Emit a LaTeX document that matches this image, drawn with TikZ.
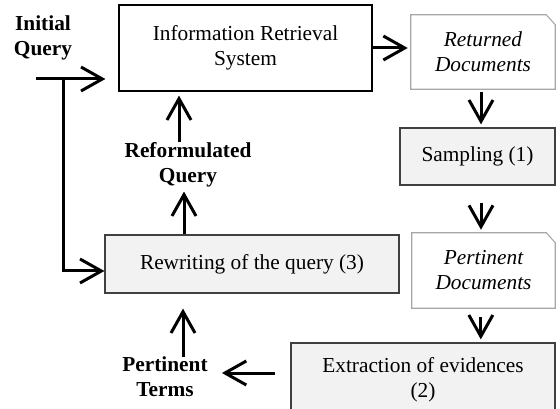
\documentclass[tikz,border=0pt]{standalone}
\usepackage{fontspec}
\setmainfont{Liberation Serif}
\usetikzlibrary{arrows.meta}

\definecolor{boxgray}{HTML}{F2F2F2}
\definecolor{docline}{HTML}{A6A6A6}

\tikzset{
  txt/.style={font=\fontsize{16}{18.75}\selectfont, align=center},
  sysbox/.style={txt, draw=black, line width=0.9pt, fill=white, inner sep=0pt},
  stepbox/.style={txt, draw=black!75, line width=0.9pt, fill=boxgray, inner sep=0pt},
  docbox/.style={txt, inner sep=0pt, font=\fontsize{16}{18.75}\selectfont\itshape},
  lbl/.style={txt, inner sep=0pt, font=\fontsize{16}{18.75}\selectfont\bfseries},
  arr/.style={line width=2.25pt, -{Straight Barb[length=16pt,width=18pt]}}
}

\begin{document}
\begin{tikzpicture}[x=0.75pt,y=-0.75pt]
    \useasboundingbox (0,0) rectangle (560,409);
    \clip (0,0) rectangle (560,409);

    % boxes
    \node[sysbox, minimum width=189.75pt, minimum height=64.5pt] (irs) at (245.5,48) {Information Retrieval\\System};
    \node[docbox, minimum width=108pt, minimum height=55.5pt] (ret) at (483,52) {Returned\\Documents};
    \node[stepbox, minimum width=116.25pt, minimum height=42.75pt] (samp) at (477.5,156.5) {Sampling (1)};
    \node[docbox, minimum width=107.25pt, minimum height=56.25pt] (pdoc) at (483.5,270.5) {Pertinent\\Documents};
    \node[stepbox, minimum width=198pt, minimum height=55.5pt] (extr) at (423,380) {Extraction of evidences\\(2)};
    \node[stepbox, minimum width=220.5pt, minimum height=43.5pt] (rw) at (252,264) {Rewriting of the query (3)};

    % document outlines
    \foreach \d in {ret,pdoc}
      \draw[docline, line width=0.8pt] (\d.north west) -- ([xshift=-6.75pt]\d.north east)
        -- ([yshift=-7.5pt]\d.north east) -- (\d.south east) -- (\d.south west) -- cycle;

    % labels
    \node[lbl] (iq) at (43,38) {Initial\\Query};
    \node[lbl] (rq) at (188,165) {Reformulated\\Query};
    \node[lbl] (pt) at (165,377) {Pertinent\\Terms};

    \coordinate (qin) at (36,79);
    \coordinate (qsplit) at (63,79);

    % connectors
    \draw[arr, shorten >=9.75pt] (qin) -- (qin -| irs.west);
    \draw[arr] (qsplit) |- ([yshift=-5.25pt]rw.west);
    \draw[arr, shorten >=2.25pt] (irs.east) -- (irs.east -| ret.west);
    \draw[arr, shorten <=2.25pt, shorten >=2.25pt] ([xshift=-1.5pt]ret.south) -- ([xshift=-1.5pt]ret.south |- samp.north);
    \draw[arr, shorten <=12.75pt, shorten >=2.25pt] ([xshift=-1.5pt]ret.south |- samp.south) -- ([xshift=-1.5pt]ret.south |- pdoc.north);
    \draw[arr, shorten <=6.75pt, shorten >=2.25pt] ([xshift=-2pt]pdoc.south) -- ([xshift=-2pt]pdoc.south |- extr.north);
    \draw[arr, shorten <=11.25pt, shorten >=10.5pt] ([yshift=5.25pt]extr.west) -- ([yshift=5.25pt]extr.west -| pt.east);
    \draw[arr, shorten >=11.25pt] ([xshift=13.5pt]pt.north) -- ([xshift=13.5pt]pt.north |- rw.south);
    \draw[arr, shorten >=3pt] ([xshift=-3pt]rq.south |- rw.north) -- ([xshift=-3pt]rq.south);
    \draw[arr, shorten >=3pt] ([xshift=-6.75pt]rq.north) -- ([xshift=-6.75pt]rq.north |- irs.south);
\end{tikzpicture}
\end{document}
